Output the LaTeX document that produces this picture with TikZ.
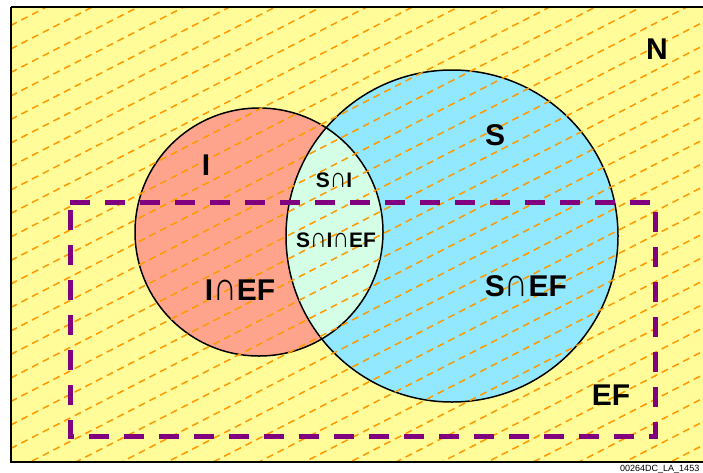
\documentclass[tikz,border=0pt]{standalone}
\usepackage{fontspec}
\usepackage{graphicx}
\setmainfont{Liberation Sans}
\definecolor{bgyel}{RGB}{255,252,153}
\definecolor{salm}{RGB}{255,164,140}
\definecolor{cyanS}{RGB}{145,232,255}
\definecolor{lens}{RGB}{212,255,230}
\definecolor{hatch}{RGB}{255,153,0}
\definecolor{purp}{RGB}{128,0,128}
\newcommand{\capx}{{\fontseries{m}\selectfont\scalebox{1.1}[1.35]{∩}}}
\tikzset{
  lbl/.style={font=\fontsize{30}{30}\selectfont\bfseries, inner sep=0pt},
  slbl/.style={font=\fontsize{21}{21}\selectfont\bfseries, inner sep=0pt},
  hatchline/.style={hatch, line width=1.5pt, dash pattern=on 7pt off 5pt},
  efbox/.style={purp, line width=5pt, dash pattern=on 20pt off 15pt},
  circ/.style={black, line width=1.5pt}
}
\begin{document}
\begin{tikzpicture}[x=1pt,y=-1pt]
\useasboundingbox (0,0) rectangle (703,472);
\fill[white] (0,0) rectangle (703,472);
\begin{scope}
\clip (0,0) rectangle (703,472);
% background
\fill[bgyel] (11,7) rectangle (710,462);
% circles
\coordinate (ci) at (259,232);
\coordinate (cs) at (452,236);
\fill[salm] (ci) circle[radius=124];
\fill[cyanS] (cs) circle[radius=166];
\begin{scope}
  \clip (ci) circle[radius=124];
  \fill[lens] (cs) circle[radius=166];
\end{scope}
\draw[circ] (ci) circle[radius=124];
\draw[circ] (cs) circle[radius=166];
% hatching
\begin{scope}
  \clip (12,8) rectangle (710,461);
  \foreach \k in {-1,...,36} {
    \pgfmathsetmacro{\c}{31+23.5*\k}
    \draw[hatchline] (0,\c) -- (720,\c-370);
  }
\end{scope}
% frame
\draw[black, line width=2pt] (11,7) -- (710,7) (11,7) -- (11,462) -- (710,462);
% EF box
\draw[efbox] (70,202) -- (655,202) -- (655,436) -- (70,436) -- cycle;
\end{scope}
% labels
\node[lbl] (N) at (657,49) {N};
\node[lbl] (S) at (495,135) {S};
\node[lbl] (I) at (206,165) {I};
\node[slbl] (SI) at (334,180) {S\capx I};
\node[slbl] (SIEF) at (336,240) {S\capx I\capx EF};
\node[lbl] (IEF) at (240,290) {I\capx EF};
\node[lbl] (SEF) at (526,286) {S\capx EF};
\node[lbl] (EF) at (611,395) {EF};
\node[anchor=base west, font=\fontsize{9}{9}\selectfont, inner sep=0pt] (cap) at (620,471) {00264DC\_LA\_1453};
\end{tikzpicture}
\end{document}
